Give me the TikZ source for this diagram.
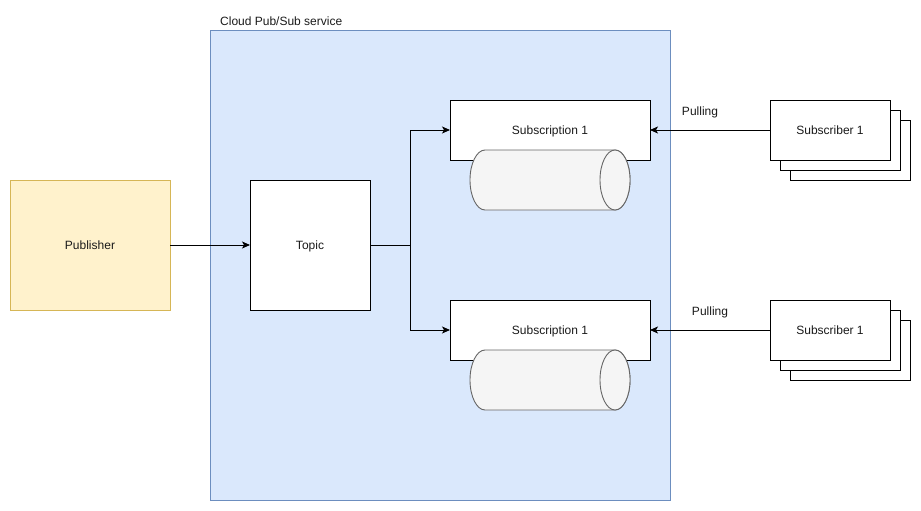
\documentclass[tikz,border=0pt]{standalone}
\usepackage{fontspec}
\setmainfont{Liberation Sans}
\usetikzlibrary{arrows.meta}
\definecolor{svcfill}{HTML}{DAE8FC}
\definecolor{svcline}{HTML}{6C8EBF}
\definecolor{pubfill}{HTML}{FFF2CC}
\definecolor{publine}{HTML}{D6B656}
\definecolor{cylfill}{HTML}{F5F5F5}
\definecolor{cylline}{HTML}{666666}
\definecolor{txt}{HTML}{1A1A1A}
\tikzset{
  box/.style={draw=black, fill=white, line width=0.9pt, outer sep=0pt, inner sep=0pt, text=txt, text depth=0pt, font=\fontsize{12pt}{14pt}\selectfont},
  arr/.style={draw=black, line width=0.9pt, -{Stealth[length=8pt,width=7pt,inset=2pt]}},
  lbl/.style={text=txt, text depth=0pt, font=\fontsize{12pt}{14pt}\selectfont, inner sep=0pt},
  cyl/.style={fill=cylfill, draw=cylline, line width=0.9pt}
}
\begin{document}
\begin{tikzpicture}[x=1pt,y=-1pt]
\useasboundingbox (0,0) rectangle (921,511);
% container
\node[draw=svcline, fill=svcfill, line width=0.9pt, minimum width=460pt, minimum height=470pt, inner sep=0pt, outer sep=0pt] (svc) at (440,265) {};
\node[lbl, anchor=west] (svclbl) at (220,21) {Cloud Pub/Sub service};
% publisher, topic
\node[box, draw=publine, fill=pubfill, minimum width=160pt, minimum height=130pt] (pub) at (90,245) {Publisher};
\node[box, minimum width=120pt, minimum height=130pt] (topic) at (310,245) {Topic};
% subscriptions
\node[box, minimum width=200pt, minimum height=60pt] (sub1) at (550,130) {Subscription 1};
\node[box, minimum width=200pt, minimum height=60pt] (sub2) at (550,330) {Subscription 1};
% cylinders
\path[cyl] (485,150) -- (615,150) arc[start angle=90, end angle=-90, x radius=15pt, y radius=30pt] -- (485,210) arc[start angle=270, end angle=90, x radius=15pt, y radius=30pt] -- cycle;
\path[cyl] (615,180) ellipse[x radius=15pt, y radius=30pt];
\path[cyl] (485,350) -- (615,350) arc[start angle=90, end angle=-90, x radius=15pt, y radius=30pt] -- (485,410) arc[start angle=270, end angle=90, x radius=15pt, y radius=30pt] -- cycle;
\path[cyl] (615,380) ellipse[x radius=15pt, y radius=30pt];
% subscribers (stacks)
\node[box, minimum width=120pt, minimum height=60pt] (s1c) at (850,150) {};
\node[box, minimum width=120pt, minimum height=60pt] (s1b) at (840,140) {};
\node[box, minimum width=120pt, minimum height=60pt] (s1) at (830,130) {Subscriber 1};
\node[box, minimum width=120pt, minimum height=60pt] (s2c) at (850,350) {};
\node[box, minimum width=120pt, minimum height=60pt] (s2b) at (840,340) {};
\node[box, minimum width=120pt, minimum height=60pt] (s2) at (830,330) {Subscriber 1};
% connectors
\draw[arr] (pub.east) -- (topic.west);
\coordinate (split) at (410,245);
\draw[arr] (topic.east) -- (split) |- (sub1.west);
\draw[arr] (split) |- (sub2.west);
\draw[arr] (s1.west) -- (sub1.east);
\draw[arr] (s2.west) -- (sub2.east);
\node[lbl] (p1) at (700,111) {Pulling};
\node[lbl] (p2) at (710,311) {Pulling};
\end{tikzpicture}
\end{document}
